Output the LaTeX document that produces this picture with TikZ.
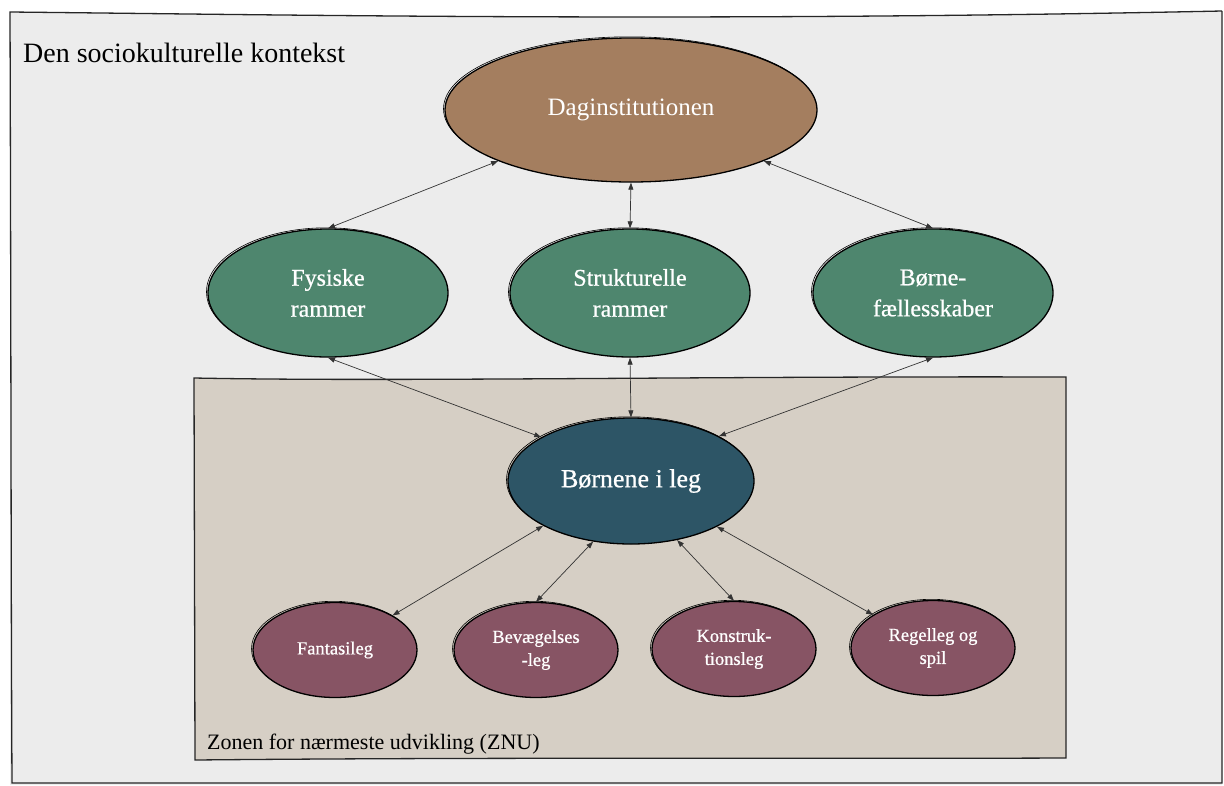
\documentclass[tikz,border=0pt]{standalone}
\usepackage{fontspec}
\setmainfont{Liberation Serif}
\newfontfamily\nodefont[FakeBold=0.7]{Liberation Serif}
\usetikzlibrary{arrows.meta,shapes.geometric}
\definecolor{bgc}{HTML}{ECECEC}
\definecolor{zone}{HTML}{D6CFC5}
\definecolor{brown}{HTML}{A47E5F}
\definecolor{grn}{HTML}{4E866E}
\definecolor{teal}{HTML}{2D5566}
\definecolor{plum}{HTML}{875464}
\tikzset{
  arr/.style={{Triangle[length=7pt,width=5pt]}-{Triangle[length=7pt,width=5pt]}, line width=0.7pt, draw=black!80},
  blob/.style={ellipse, draw=black, line width=1.3pt, inner sep=0pt, text=white, align=center,
     preaction={draw=black, line width=0.6pt, transform canvas={shift={(-1.5pt,1.2pt)}}}},
  frame/.style={draw=black!85, line width=1.3pt},
  gtxt/.style={font=\nodefont\fontsize{24}{31}\selectfont},
  ptxt/.style={font=\nodefont\fontsize{18.5}{23}\selectfont},
}
\begin{document}
\begin{tikzpicture}[x=1pt,y=-1pt]
\useasboundingbox (0,0) rectangle (1224,785);
\fill[white] (0,0) rectangle (1224,785);
% outer context frame
\path[fill=bgc] (10,12) .. controls (300,15) and (700,22) .. (1222,11) -- (1222,785) -- (10,785) -- cycle;
\draw[frame] (1222,11) .. controls (700,22) and (300,15) .. (10,12)
   .. controls (11,300) and (11,600) .. (12,783) -- (1222,783) -- (1222,11);
\node[anchor=base west, inner sep=0pt, font=\fontsize{28}{30}\selectfont] (ctx) at (23,62) {Den sociokulturelle kontekst};
% zone box
\draw[frame, fill=zone] (194,378) .. controls (400,382) and (700,376) .. (1066,377)
   -- (1066,758) .. controls (800,759) and (500,757) .. (195,760) -- cycle;
\node[anchor=base west, inner sep=0pt, font=\fontsize{22}{26}\selectfont] (znu) at (207,749) {Zonen for nærmeste udvikling (ZNU)};
% nodes
\node[blob, fill=brown, minimum width=372pt, minimum height=144pt, font=\fontsize{25}{30}\selectfont] (dag) at (631,110) {Daginstitutionen};
\node[blob, fill=grn, minimum width=240pt, minimum height=128pt, gtxt] (fys) at (328,293) {Fysiske\\rammer};
\node[blob, fill=grn, minimum width=240pt, minimum height=128pt, gtxt] (str) at (630,293) {Strukturelle\\rammer};
\node[blob, fill=grn, minimum width=240pt, minimum height=128pt, gtxt] (bfa) at (933,293) {Børne-\\fællesskaber};
\node[blob, fill=teal, minimum width=246pt, minimum height=126pt, font=\nodefont\fontsize{26}{30}\selectfont] (boe) at (631,481) {Børnene i leg};
\node[blob, fill=plum, minimum width=164pt, minimum height=95pt, ptxt] (fan) at (335,650) {Fantasileg};
\node[blob, fill=plum, minimum width=164pt, minimum height=95pt, ptxt] (bev) at (536,650) {Bevægelses\\-leg};
\node[blob, fill=plum, minimum width=164pt, minimum height=95pt, ptxt] (kon) at (734,649) {Konstruk-\\tionsleg};
\node[blob, fill=plum, minimum width=164pt, minimum height=95pt, ptxt] (reg) at (933,648) {Regelleg og\\spil};
% connectors
\draw[arr] (dag.201) -- (fys.north);
\draw[arr] (dag.south) -- (str.north);
\draw[arr] (dag.-21) -- (bfa.north);
\draw[arr] (fys.south) -- (boe.154);
\draw[arr] (str.south) -- (boe.north);
\draw[arr] (bfa.south) -- (boe.27);
\draw[arr] (boe.207) -- (fan.31);
\draw[arr] (boe.238) -- (bev.north);
\draw[arr] (boe.-52) -- (kon.north);
\draw[arr] (boe.-28) -- (reg.151);
\end{tikzpicture}
\end{document}
